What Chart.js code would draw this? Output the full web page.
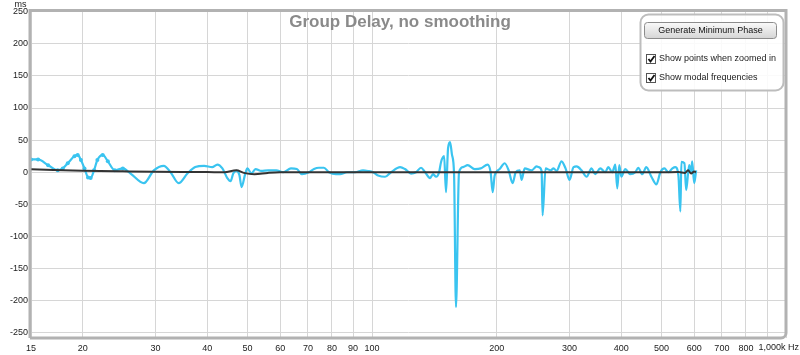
<!DOCTYPE html>
<html><head><meta charset="utf-8">
<script src="https://cdn.jsdelivr.net/npm/chart.js@4.4.1/dist/chart.umd.min.js"></script>
<style>html,body{margin:0;padding:0;background:#fff;overflow:hidden}#wrap{width:800px;height:355px;position:relative}</style>
</head><body><div id="wrap"><canvas id="c" width="800" height="355"></canvas></div>
<script>
// ---- data ----
const gdFreq = [15.0,15.6,16.5,17.4,17.9,18.4,19.1,19.45,19.8,20.2,20.6,20.9,21.3,21.7,22.35,23.0,23.9,25.0,26.1,28.1,29.7,31.4,32.6,34.1,35.8,37.4,39.3,41.1,42.3,43.5,44.7,45.5,46.2,47.0,47.8,48.4,49.4,50.0,51.1,52.3,54.0,56.1,58.7,61.0,63.7,65.8,67.7,70.4,72.4,74.4,76.5,78.7,81.8,83.7,87.0,91.0,95.1,97.8,100.6,103.4,107.5,111.1,116.9,120.1,124.2,127.7,131.3,134.3,138.1,140.4,142.8,145.2,146.8,149.3,150.9,152.6,154.3,156.0,157.8,159.5,162.2,165.9,170.2,177.0,183.0,190.2,193.4,195.6,197.8,203.4,209.1,213.8,218.6,222.3,227.3,229.8,233.7,242.9,249.8,252.6,256.8,258.2,262.5,270.0,274.5,279.1,286.9,293.4,300.0,306.7,311.9,320.7,329.8,339.0,346.1,355.9,365.9,372.1,380.5,386.9,391.2,395.6,400.0,409.0,420.5,432.4,439.7,449.6,459.7,473.0,486.3,497.2,508.4,519.8,531.6,540.5,549.6,555.7,558.8,568.3,573.9,583.5,590.1,593.4,600.0,606.7];
const gdValues = [20,20,11,3,6,14,25,27,19,6,-8,-9,3,19,27,17,3,6,-2,-17,3,10,0,-17,-2,8,10,8,12,6,-9,-14,-2,2,-4,-23,-2,6,-2,5,2,3,3,0,6,5,-3,0,5,7,7,0,-3,-3,0,0,3,2,0,-5,-7,0,8,5,-2,0,7,0,-9,-3,-7,0,16,25,-31,37,47,27,-3,-210,0,8,11,5,6,12,0,-31,-5,5,14,3,-17,0,3,-12,6,3,9,8,2,-67,6,3,6,2,17,6,-12,8,9,3,-7,6,-3,6,0,8,0,12,-25,11,-7,5,-3,0,7,-3,8,-7,-19,0,6,0,6,8,-5,-61,16,14,-28,11,0,17,-17,3];
const minPhaseFreq = [15,17,20,25,30,40,44,47,49,52,56,60,100,200,300,400,500,550,570,580,590,600,606];
const minPhaseValues = [4.5,3.5,2.5,1.5,0.8,0.3,0,3,-1,-3,-1,0,0,0,0,0,0,0.3,-1,3,-2,1,0];
const xTickValues = [15,20,30,40,50,60,70,80,90,100,200,300,400,500,600,700,800,900,1000];
const xTickLabels = ['15','20','30','40','50','60','70','80','90','100','200','300','400','500','600','700','800','',''];
const xEndLabel = '1,000k Hz';
const yTickValues = [-250,-200,-150,-100,-50,0,50,100,150,200,250];
const yUnit = 'ms';
const titleText = 'Group Delay, no smoothing';
const buttonText = 'Generate Minimum Phase';
const checkboxLabels = ['Show points when zoomed in','Show modal frequencies'];

const FONT = '"Liberation Sans", Arial, sans-serif';
const gdPoints = gdFreq.map((f,i)=>({x:f,y:gdValues[i]}));
const mpPoints = minPhaseFreq.map((f,i)=>({x:f,y:minPhaseValues[i]}));

function rr(ctx,x,y,w,h,r){ctx.beginPath();ctx.moveTo(x+r,y);ctx.lineTo(x+w-r,y);ctx.arcTo(x+w,y,x+w,y+r,r);ctx.lineTo(x+w,y+h-r);ctx.arcTo(x+w,y+h,x+w-r,y+h,r);ctx.lineTo(x+r,y+h);ctx.arcTo(x,y+h,x,y+h-r,r);ctx.lineTo(x,y+r);ctx.arcTo(x,y,x+r,y,r);ctx.closePath();}

const decor = {
  id:'decor',
  afterDraw(chart){
    const ctx = chart.ctx, a = chart.chartArea;
    ctx.save();
    ctx.strokeStyle = '#b2b2b2'; ctx.lineWidth = 3;
    ctx.beginPath();
    ctx.moveTo(a.left-1, a.bottom); ctx.lineTo(a.left-1, a.top-0.5); ctx.lineTo(a.right, a.top-0.5);
    ctx.lineTo(a.right, a.bottom-5); ctx.arcTo(a.right, a.bottom, a.right-5, a.bottom, 5); ctx.lineTo(a.left-1, a.bottom);
    ctx.stroke();
    ctx.font = 'bold 17px ' + FONT; ctx.fillStyle = '#8a8a8a'; ctx.textAlign='center'; ctx.textBaseline='alphabetic';
    ctx.fillText(titleText, 400, 27);
    ctx.font = '9px ' + FONT; ctx.fillStyle = '#222';
    ctx.fillText(yUnit, 20.5, 7);
    ctx.textAlign='right'; ctx.textBaseline='middle';
    ctx.fillText(xEndLabel, 799, 348);
    rr(ctx,640.5,14.5,143,76,8);
    ctx.fillStyle='rgba(255,255,255,0.88)'; ctx.fill();
    ctx.strokeStyle='#bdbdbd'; ctx.lineWidth=2; ctx.stroke();
    rr(ctx,644.5,22.5,132,16,3);
    const g = ctx.createLinearGradient(0,22,0,39); g.addColorStop(0,'#fbfbfb'); g.addColorStop(1,'#d4d4d4');
    ctx.fillStyle=g; ctx.fill(); ctx.strokeStyle='#8c8c8c'; ctx.lineWidth=1; ctx.stroke();
    ctx.fillStyle='#111'; ctx.textAlign='center'; ctx.textBaseline='middle'; ctx.font='9px '+FONT;
    ctx.fillText(buttonText, 710.5, 31);
    checkboxLabels.forEach((lab,i)=>{
      const y = 54.5 + i*19;
      ctx.fillStyle='#fff'; ctx.fillRect(646.5,y,9,9);
      ctx.strokeStyle='#555'; ctx.lineWidth=1; ctx.strokeRect(646.5,y,9,9);
      ctx.strokeStyle='#111'; ctx.lineWidth=1.8; ctx.beginPath();
      ctx.moveTo(648.5,y+4.5); ctx.lineTo(650.5,y+7); ctx.lineTo(654.5,y+1.5); ctx.stroke();
      ctx.fillStyle='#222'; ctx.textAlign='left'; ctx.textBaseline='middle';
      ctx.fillText(lab, 659, y+4.5);
    });
    ctx.restore();
  }
};

new Chart(document.getElementById('c'), {
  type:'line',
  data:{datasets:[
    {data:mpPoints, borderColor:'#333333', borderWidth:2, pointRadius:0, cubicInterpolationMode:'monotone'},
    {data:gdPoints, borderColor:'rgb(58,196,240)', backgroundColor:'rgb(58,196,240)', borderWidth:2.2,
     pointRadius:(c)=> (c.raw && c.raw.x < 25.5) ? 2 : 0, pointBorderWidth:0, cubicInterpolationMode:'monotone'}
  ]},
  options:{
    responsive:false, animation:false, devicePixelRatio:1,
    layout:{padding:{left:0,top:11,right:14,bottom:0}},
    plugins:{legend:{display:false},tooltip:{enabled:false},title:{display:false}},
    scales:{
      x:{type:'logarithmic', min:15, max:1000,
        afterBuildTicks:(s)=>{s.ticks = xTickValues.map(v=>({value:v}));},
        afterFit:(s)=>{s.height=17;},
        ticks:{autoSkip:false, maxRotation:0, minRotation:0, padding:5, color:'#222', font:{family:FONT,size:9},
          callback:(v,i)=>xTickLabels[i]},
        grid:{color:'#d6d6d6', drawTicks:false, lineWidth:1},
        border:{display:false}},
      y:{type:'linear', min:-258, max:251,
        afterBuildTicks:(s)=>{s.ticks = yTickValues.map(v=>({value:v}));},
        afterFit:(s)=>{s.width=31;},
        ticks:{padding:3, color:'#222', font:{family:FONT,size:9}, callback:(v)=>String(v)},
        grid:{color:'#d6d6d6', drawTicks:false, lineWidth:1},
        border:{display:false}}
    }
  },
  plugins:[decor]
});
</script></body></html>
